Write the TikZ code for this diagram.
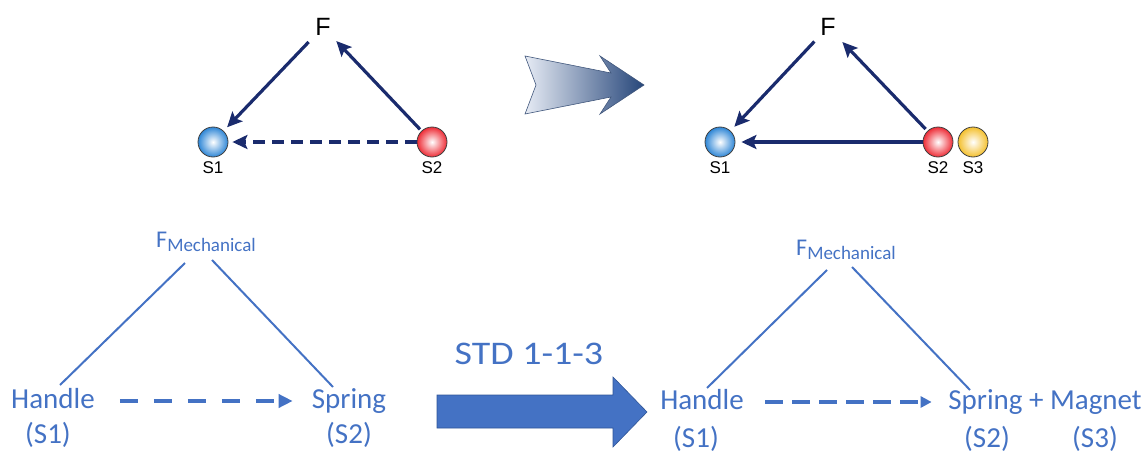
\documentclass[tikz,border=0pt]{standalone}
\usepackage{fontspec}
\setmainfont{Carlito}
\newfontfamily\arialfont{Liberation Sans}
\usetikzlibrary{arrows.meta,positioning}
\definecolor{navy}{HTML}{1A2B6D}
\definecolor{office}{HTML}{4472C4}
\definecolor{officedark}{HTML}{2F5597}
\definecolor{sblue}{HTML}{2E86D6}
\definecolor{sred}{HTML}{EE2C36}
\definecolor{syellow}{HTML}{F4C02E}
\definecolor{paleblue}{HTML}{E6EBF4}
\definecolor{deepblue}{HTML}{26467A}
\newcommand{\fsize}[1]{\fontsize{#1}{#1}\selectfont}
\newcommand{\fmech}{{\fsize{24}F}\raisebox{-4pt}{\fsize{19}Mechanical}}
\tikzset{
    sphere/.style={
           circle,
           minimum size=30pt,
           inner sep=0pt,
           draw=black!75,
           line width=0.8pt,
           },
    slabel/.style={
           font=\arialfont\fsize{17},
           inner sep=1pt,
           },
    word/.style={
           text=office,
           font=\fsize{29},
           text height=0.7em,
           text depth=0.2em,
           inner sep=3pt,
           },
}

\begin{document}
\begin{tikzpicture}[
  x=1pt,y=-1pt,
  node distance=26pt,
  glass/.style={shading=radial,inner color=white,outer color=#1},
  push/.style={navy,line width=3.2pt,-{Stealth[length=15pt,width=14pt,inset=3pt]}},
  wire/.style={office,line width=2pt},
  flow/.style={office,line width=4.5pt,dash pattern=on 18pt off 16pt,-{Triangle[length=14pt,width=13pt]}},
  force/.style={text=office,inner sep=2pt}]
\useasboundingbox (0,0) rectangle (1148,460);

\node[slabel,font=\arialfont\fsize{25}](fa) at (323,27){F};
\node[sphere,glass=sblue](s1a) at (213,142){};
\node[sphere,glass=sred,right of=s1a,node distance=219pt](s2a){};
\node[slabel,below of=s1a](s1alab){S1};
\node[slabel,below of=s2a](s2alab){S2};

\node[slabel,font=\arialfont\fsize{25}](fb) at (828,27){F};
\node[sphere,glass=sblue](s1b) at (720,142){};
\node[sphere,glass=sred,right of=s1b,node distance=218pt](s2b){};
\node[sphere,glass=syellow,right of=s2b,node distance=35pt](s3b){};
\node[slabel,below of=s1b](s1blab){S1};
\node[slabel,below of=s2b](s2blab){S2};
\node[slabel,below of=s3b](s3blab){S3};

\path[push] (fa) edge[shorten <=8pt,shorten >=5pt] (s1a)
      (s2a) edge[shorten <=2pt,shorten >=6.5pt] (fa)
      (s2a) edge[dash pattern=on 12pt off 7pt,shorten >=4pt] (s1a)
      (fb) edge[shorten <=7pt,shorten >=5.5pt] (s1b)
      (s2b) edge[shorten <=2.5pt,shorten >=8pt] (fb)
      (s2b) edge[shorten >=6pt] (s1b);

\shade[left color=paleblue,right color=deepblue,draw=deepblue!70!gray,line width=0.6pt]
  (525,56) -- (611,73) -- (600,56) -- (644,85) -- (600,114) -- (611,97)
  -- (525,114) -- (536,85) -- cycle;

\node[force](fm1) at (206,242){\fmech};
\node[word](handle1) at (53,406){Handle};
\node[word,below of=handle1,node distance=35pt,xshift=-5pt](s1c){(S1)};
\node[word](spring1) at (349,406){Spring};
\node[word,below of=spring1,node distance=35pt](s2c){(S2)};

\draw[wire] ([xshift=-21pt,yshift=-21pt]fm1.center) -- ([xshift=7pt,yshift=21pt]handle1.center);
\draw[wire] ([xshift=6pt,yshift=-18pt]fm1.center) -- ([xshift=-16pt,yshift=19pt]spring1.center);
\draw[flow,shorten <=22pt,shorten >=16pt] ([yshift=5pt]handle1.east) -- ([yshift=5pt]spring1.west);

\node[word,font=\fsize{33},xscale=1.15](std) at (529,362){STD 1-1-3};
\fill[office,draw=officedark,line width=0.6pt] (437,395) -- (613,395) -- (613,377) -- (647,412)
  -- (613,447) -- (613,428) -- (437,428) -- cycle;

\node[force](fm2) at (846,250){\fmech};
\node[word](handle2) at (702,407){Handle};
\node[word,below of=handle2,node distance=38pt,xshift=-6pt](s1d){(S1)};
\node[word](springmag) at (1045,407){Spring + Magnet};
\node[word,below of=springmag,node distance=38pt,xshift=-58pt](s2d){(S2)};
\node[word,right of=s2d,node distance=108pt](s3d){(S3)};

\draw[wire] ([xshift=-19pt,yshift=-20pt]fm2.center) -- ([xshift=5pt,yshift=19pt]handle2.center);
\draw[wire] ([xshift=6pt,yshift=-17pt]fm2.center) -- ([xshift=-75pt,yshift=17pt]springmag.center);
\draw[flow,line width=4pt,dash pattern=on 18pt off 9pt,-{Triangle[length=11pt,width=11pt]},
  shorten <=18.5pt,shorten >=13.5pt] ([yshift=5pt]handle2.east) -- ([yshift=5pt]springmag.west);
\end{tikzpicture}
\end{document}
